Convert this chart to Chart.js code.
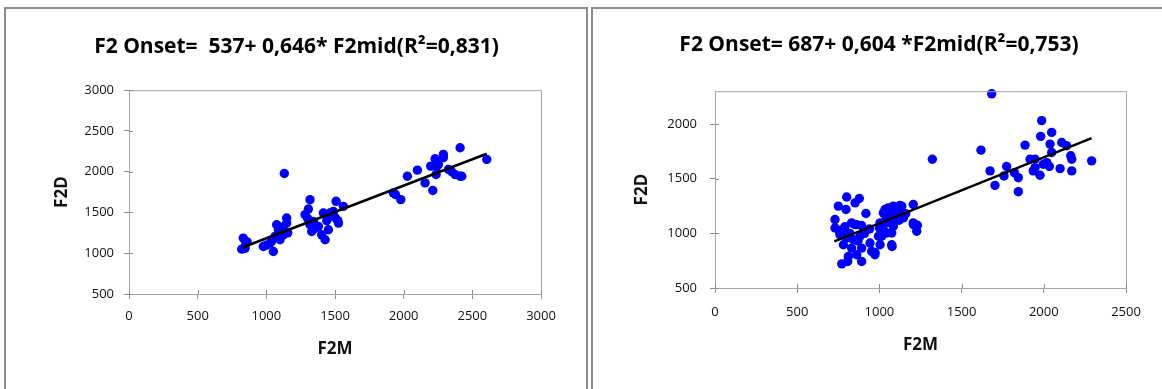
<!DOCTYPE html>
<html>
<head>
<meta charset="utf-8">
<script src="https://cdn.jsdelivr.net/npm/chart.js@4.4.1/dist/chart.umd.min.js"></script>
<style>
  body { margin: 0; background: #fff; width: 1162px; height: 389px; overflow: hidden; position: relative; }
  .box { position: absolute; border: 2px solid #8c8c8c; background: #fff; }
  canvas { position: absolute; }
</style>
</head>
<body>
<div class="box" style="left:4px;top:7px;width:580px;height:400px;"></div>
<div class="box" style="left:591px;top:7px;width:572px;height:400px;"></div>
<canvas id="chartLeft" width="579" height="379" style="left:6px;top:10px;"></canvas>
<canvas id="chartRight" width="566" height="379" style="left:594px;top:10px;"></canvas>
<script>
// Left chart data (F2M, F2D)
const leftF2M = [832, 821, 845, 850, 860, 978, 1000, 1027, 1051, 1063, 1075, 1088, 1100, 1110, 1124, 1131, 1136, 1148, 1148, 1156, 1090, 1040,
  1282, 1299, 1306, 1318, 1318, 1330, 1343, 1350, 1379, 1403, 1415, 1428, 1440, 1452, 1464, 1488, 1500, 1508, 1525, 1520, 1561,
  1925, 1940, 1979, 2027, 2100, 2156, 2197, 2212, 2229, 2236, 2240, 2253, 2289, 2289, 2326, 2350, 2374, 2411, 2423, 2411, 2605];
const leftF2D = [1186, 1050, 1060, 1110, 1140, 1083, 1100, 1124, 1021, 1206, 1350, 1288, 1165, 1250, 1226, 1978, 1267, 1432, 1370, 1250, 1330, 1150,
  1473, 1432, 1542, 1657, 1350, 1267, 1390, 1300, 1329, 1226, 1493, 1165, 1400, 1288, 1493, 1514, 1440, 1637, 1370, 1400, 1575,
  1740, 1720, 1658, 1945, 2019, 1863, 2069, 1769, 2159, 1966, 2060, 2089, 2212, 2171, 2028, 2000, 1966, 1945, 1945, 2294, 2151];
const leftTrendX = [830, 2605];
const leftTrendY = [1073, 2220];
const leftXTicks = [0, 500, 1000, 1500, 2000, 2500, 3000];
const leftYTicks = [500, 1000, 1500, 2000, 2500, 3000];

// Right chart data (F2M, F2D)
const rightF2M = [730, 730, 750, 801, 878, 852, 797, 918, 831, 852, 862, 892, 760, 760, 801, 841, 882, 781, 831, 892, 943, 953, 973,
  994, 1004, 1024, 1004, 1024, 1034, 1054, 1065, 1085, 1125, 1136, 1206, 1065, 1105, 1146, 1146, 1085, 1044, 1075, 1077, 973, 971,
  862, 811, 771, 807, 892, 1206, 1227, 1231, 1207, 1014, 1075, 1120, 1050, 1100, 1160, 1000, 940, 910, 790, 770, 820, 870, 1040, 1090, 1130,
  1322, 1618, 1673, 1683, 1703, 1758, 1774, 1821, 1845, 1845, 1886, 1916, 1947, 1936, 1947, 1977, 1987, 1981, 1997, 2018, 2034, 2038,
  2048, 2048, 2099, 2109, 2139, 2164, 2170, 2170, 2291];
const rightF2D = [1126, 1049, 1249, 1332, 1319, 1279, 1218, 1181, 1095, 1080, 1080, 1071, 988, 1003, 957, 942, 973, 896, 865, 865, 911, 835, 826,
  973, 896, 1034, 1095, 1187, 1218, 1233, 1203, 1249, 1255, 1249, 1264, 1141, 1172, 1157, 1141, 1065, 1003, 896, 880, 804, 822,
  804, 789, 721, 743, 743, 1095, 1019, 1074, 1080, 973, 1003, 1120, 1100, 1200, 1180, 1050, 1040, 1000, 1060, 1030, 1000, 930, 1150, 1130, 1230,
  1678, 1761, 1571, 2276, 1439, 1525, 1611, 1555, 1509, 1381, 1807, 1678, 1678, 1571, 1601, 1531, 2031, 1887, 1632, 1647, 1611, 1816,
  1923, 1739, 1592, 1831, 1801, 1709, 1678, 1571, 1663];
const rightTrendX = [726, 2291];
const rightTrendY = [927, 1871];
const rightXTicks = [0, 500, 1000, 1500, 2000, 2500];
const rightYTicks = [500, 1000, 1500, 2000];

const leftTitle = "F2 Onset=  537+ 0,646* F2mid(R²=0,831)";
const rightTitle = "F2 Onset= 687+ 0,604 *F2mid(R²=0,753)";

const toPoints = (xs, ys) => xs.map((x, i) => ({ x: x, y: ys[i] }));

// cadre gris du plot + petites graduations qui croisent l'axe
const excelFrame = {
  id: "excelFrame",
  afterDraw(chart) {
    const { ctx, chartArea, scales } = chart;
    ctx.save();
    ctx.strokeStyle = "#a6a6a6";
    ctx.lineWidth = 1;
    ctx.strokeRect(chartArea.left + 0.5, chartArea.top + 0.5, chartArea.right - chartArea.left, chartArea.bottom - chartArea.top);
    ctx.strokeStyle = "#8c8c8c";
    ctx.beginPath();
    scales.x.ticks.forEach((t) => {
      const px = Math.round(scales.x.getPixelForValue(t.value)) + 0.5;
      ctx.moveTo(px, chartArea.bottom);
      ctx.lineTo(px, chartArea.bottom - 4);
    });
    scales.y.ticks.forEach((t) => {
      const py = Math.round(scales.y.getPixelForValue(t.value)) + 0.5;
      ctx.moveTo(chartArea.left, py);
      ctx.lineTo(chartArea.left + 4, py);
    });
    ctx.stroke();
    ctx.restore();
  },
};

function makeChart(id, opts) {
  return new Chart(document.getElementById(id), {
    type: "scatter",
    plugins: [excelFrame],
    data: {
      datasets: [
        {
          label: "trend",
          data: toPoints(opts.trendX, opts.trendY),
          showLine: true,
          borderColor: "#000",
          borderWidth: 2.5,
          pointRadius: 0,
          order: 0,
        },
        {
          label: "F2D",
          data: toPoints(opts.xs, opts.ys),
          backgroundColor: "#0000ff",
          borderColor: "#0000ff",
          pointRadius: 4.7,
          pointBorderWidth: 0,
          clip: false,
          order: 1,
        },
      ],
    },
    options: {
      responsive: false,
      animation: false,
      layout: { padding: opts.padding },
      plugins: {
        legend: { display: false },
        tooltip: { enabled: false },
        title: {
          display: true,
          text: opts.title,
          color: "#000",
          font: { family: "Open Sans", size: 21, weight: "bold" },
          padding: opts.titlePadding,
        },
      },
      scales: {
        x: {
          type: "linear",
          min: 0,
          max: opts.xMax,
          afterFit: (s) => { s.height = opts.xHeight; },
          afterBuildTicks: (s) => { s.ticks = opts.xTicks.map((v) => ({ value: v })); },
          ticks: { color: "#111", padding: opts.xTickPad, maxRotation: 0, callback: (v) => String(v), font: { family: "Open Sans", size: 13 } },
          grid: { drawOnChartArea: false, tickLength: 5, color: "#8c8c8c" },
          border: { color: "#8c8c8c", width: 1 },
          title: { display: true, text: "F2M", color: "#111", padding: 0, font: { family: "Open Sans", size: 17, weight: "bold" } },
        },
        y: {
          type: "linear",
          min: 500,
          max: opts.yMax,
          afterFit: (s) => { s.width = opts.yWidth; },
          afterBuildTicks: (s) => { s.ticks = opts.yTicks.map((v) => ({ value: v })); },
          ticks: { color: "#111", padding: opts.yTickPad, callback: (v) => String(v), font: { family: "Open Sans", size: 13 } },
          grid: { drawOnChartArea: false, tickLength: 5, color: "#8c8c8c" },
          border: { color: "#8c8c8c", width: 1 },
          title: { display: true, text: "F2D", color: "#111", padding: 0, font: { family: "Open Sans", size: 17, weight: "bold" } },
        },
      },
    },
  });
}

makeChart("chartLeft", {
  xs: leftF2M, ys: leftF2D, trendX: leftTrendX, trendY: leftTrendY,
  title: leftTitle, xMax: 3000, yMax: 3000, xTicks: leftXTicks, yTicks: leftYTicks,
  padding: { left: 46, right: 44, top: 0, bottom: 30 },
  titlePadding: { top: 24, bottom: 31 },
  xHeight: 65, yWidth: 77, xTickPad: 9, yTickPad: 10,
});

makeChart("chartRight", {
  xs: rightF2M, ys: rightF2D, trendX: rightTrendX, trendY: rightTrendY,
  title: rightTitle, xMax: 2500, yMax: 2300, xTicks: rightXTicks, yTicks: rightYTicks,
  padding: { left: 38, right: 34, top: 0, bottom: 34 },
  titlePadding: { top: 22, bottom: 34 },
  xHeight: 67, yWidth: 83, xTickPad: 11, yTickPad: 13,
});
</script>
</body>
</html>
